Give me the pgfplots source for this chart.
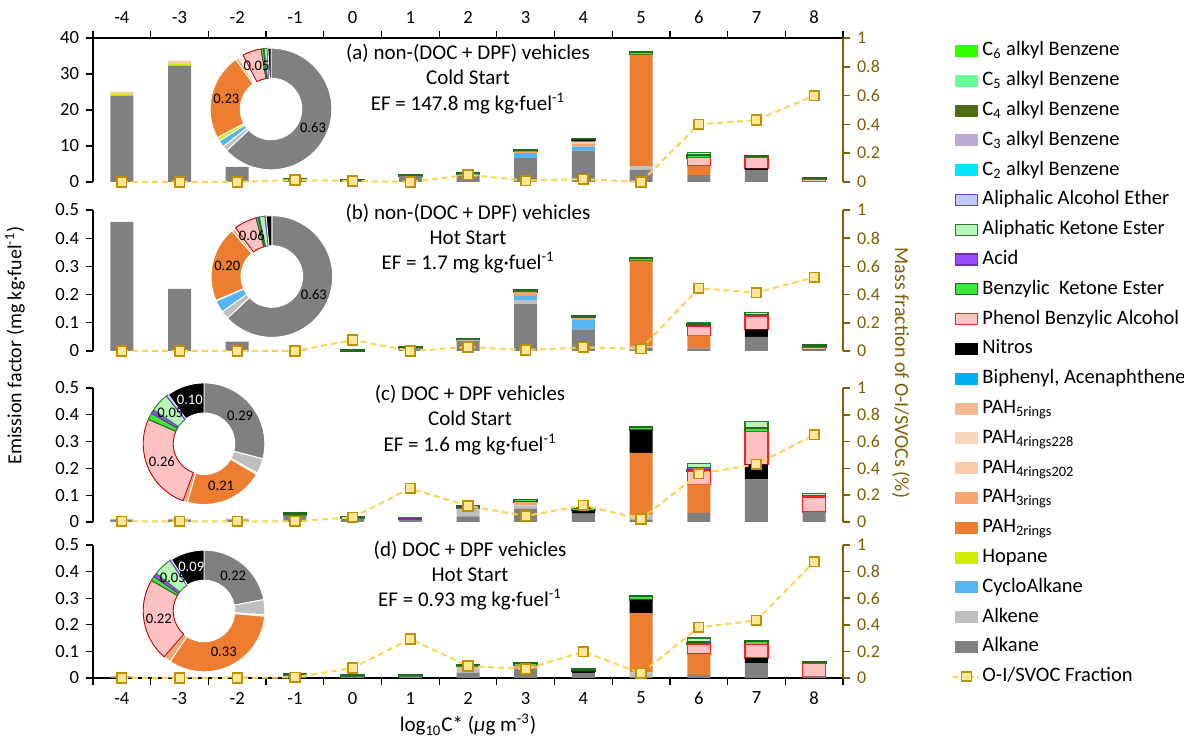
\documentclass[border=0pt]{standalone}
\usepackage{fontspec}
\setmainfont{Carlito}
\usepackage{pgfplots}
\usepackage{pgfplotstable}
\pgfplotsset{compat=1.18}

% ---- colours -------------------------------------------------------------
\definecolor{cAlk}{HTML}{808080}
\definecolor{cAlke}{HTML}{BFBFBF}
\definecolor{cCyc}{HTML}{56B4F2}
\definecolor{cHop}{HTML}{D2EC00}
\definecolor{cPtwo}{HTML}{ED7D31}
\definecolor{cPthree}{HTML}{F4A66E}
\definecolor{cPfoura}{HTML}{F8CBAD}
\definecolor{cPfourb}{HTML}{F9D5BC}
\definecolor{cPfive}{HTML}{F4B98E}
\definecolor{cBip}{HTML}{00B0F0}
\definecolor{cNit}{HTML}{000000}
\definecolor{cPhe}{HTML}{FFC2C2}
\definecolor{cPheB}{HTML}{FF2020}
\definecolor{cPheD}{HTML}{C00000}
\definecolor{cBke}{HTML}{3CE83C}
\definecolor{cBkeB}{HTML}{1E6B1E}
\definecolor{cAcid}{HTML}{9A4DFF}
\definecolor{cAcidB}{HTML}{7030A0}
\definecolor{cAke}{HTML}{B5F5B5}
\definecolor{cAkeB}{HTML}{2E7D32}
\definecolor{cAae}{HTML}{C3CAFF}
\definecolor{cAaeB}{HTML}{6A3BE0}
\definecolor{cCtwo}{HTML}{00E6FF}
\definecolor{cCthree}{HTML}{BCAAD6}
\definecolor{cCfour}{HTML}{4F6B14}
\definecolor{cCfive}{HTML}{66FF99}
\definecolor{cCsix}{HTML}{33FF00}
\definecolor{cLine}{HTML}{FFD34F}
\definecolor{cMk}{HTML}{FFE699}
\definecolor{cMkB}{HTML}{BF9000}
\definecolor{cRax}{HTML}{7F6000}

% ---- emission factors by volatility bin (mg kg-fuel^-1) -------------------
\pgfplotstableread{
x  alk   alke  cyc  hop  ptwo pthree pfour nit  phe  bke  acid ake  aae
-4 24.0  0     0    0.4  0    0      0.7   0    0    0    0    0    0
-3 32.3  0     0    0.5  0    0      0.9   0    0    0    0    0    0
-2 4.1   0     0    0    0    0      0.2   0    0    0    0    0    0
-1 0.6   0     0    0    0    0      0     0    0    0.3  0    0    0
0  0.3   0     0    0    0    0      0     0    0    0.3  0    0    0
1  1.7   0     0    0    0    0      0     0    0    0.3  0    0.1  0
2  1.8   0     0.3  0    0    0      0     0    0    0.3  0    0    0.2
3  6.6   0     1.4  0    0    0.5    0     0    0    0.4  0    0    0
4  8.7   0     1.1  0    0    0.7    0.7   0.5  0    0.4  0    0    0
5  3.3   1.1   0    0    31.0 0      0     0    0    0.7  0    0    0
6  1.9   0     0    0    2.6  0      0     0    2.2  0.8  0    0.7  0
7  3.3   0     0    0    0    0      0     0.5  2.9  0.6  0    0    0
8  0.2   0     0    0    0    0      0     0    0.6  0.4  0    0    0
}\tA
\pgfplotstableread{
x  alk   alke  cyc   hop  ptwo  pthree pfour nit   phe   bke   acid ake   aae
-4 0.458 0     0     0    0     0      0     0     0     0     0    0     0
-3 0.220 0     0     0    0     0      0     0     0     0     0    0     0
-2 0.033 0     0     0    0     0      0     0     0     0     0    0     0
-1 0.001 0     0     0    0     0      0     0     0     0     0    0     0
0  0     0     0     0    0     0      0     0     0     0.003 0    0     0
1  0.010 0     0     0    0     0      0     0     0     0.005 0    0     0
2  0.035 0.004 0     0    0     0      0     0     0     0.005 0    0     0
3  0.166 0.015 0.014 0    0     0.015  0     0     0     0.006 0    0     0
4  0.077 0     0.035 0    0     0.006  0     0.002 0     0.005 0    0     0
5  0.010 0.008 0     0    0.302 0      0     0     0     0.009 0    0     0
6  0.009 0     0     0    0.046 0      0     0     0.033 0.008 0    0.005 0
7  0.050 0     0     0    0     0      0     0.027 0.047 0.004 0    0.008 0
8  0.005 0     0     0    0     0      0     0     0.008 0.007 0    0     0
}\tB
\pgfplotstableread{
x  alk   alke  cyc  hop  ptwo  pthree pfour nit   phe   bke   acid  ake   aae
-4 0.008 0.004 0    0    0     0      0     0     0     0     0     0     0
-3 0.008 0.004 0    0    0     0      0     0     0     0     0     0     0
-2 0.009 0.004 0    0    0     0      0     0     0     0     0     0     0
-1 0.025 0     0    0    0     0      0     0     0     0.008 0     0     0
0  0.013 0     0    0    0     0      0     0     0     0.006 0     0     0
1  0.008 0     0    0    0     0      0     0     0     0     0.006 0.004 0
2  0.021 0.029 0    0    0     0      0     0     0     0.007 0.005 0     0
3  0.050 0.012 0    0    0     0.012  0     0     0     0.010 0     0     0
4  0.031 0     0    0    0     0      0     0.012 0     0.008 0     0.003 0
5  0.008 0.017 0    0    0.233 0      0     0.085 0     0.012 0     0     0
6  0.034 0     0    0    0.106 0      0     0     0.050 0.006 0.006 0.016 0
7  0.159 0     0    0    0     0      0     0.056 0.123 0.012 0     0.026 0
8  0.037 0     0    0    0     0      0     0     0.056 0     0.004 0.009 0
}\tC
\pgfplotstableread{
x  alk   alke  cyc  hop  ptwo  pthree pfour nit   phe   bke   acid  ake   aae
-4 0.004 0     0    0    0     0.002  0     0     0     0     0     0     0
-3 0.004 0     0    0    0     0      0     0     0     0     0     0     0
-2 0.005 0     0    0    0     0      0     0     0     0     0     0     0
-1 0.010 0     0    0    0     0      0     0     0     0.005 0     0     0
0  0.005 0     0    0    0     0      0     0     0     0.006 0     0     0
1  0.006 0     0    0    0     0      0     0     0     0.006 0     0     0
2  0.020 0.015 0    0    0     0.008  0     0     0     0.007 0     0     0
3  0.034 0     0    0    0     0.013  0     0     0     0.010 0     0     0
4  0.019 0     0    0    0     0      0     0.006 0     0.008 0     0     0
5  0.003 0.018 0    0    0.223 0      0     0.050 0     0.015 0     0     0
6  0.011 0     0    0    0.079 0      0     0     0.038 0.005 0.004 0.013 0
7  0.056 0     0    0    0     0      0     0.019 0.051 0.013 0     0     0
8  0.006 0     0    0    0     0      0     0     0.049 0.006 0     0     0
}\tD

% ---- O-I/SVOC mass fraction by bin ---------------------------------------
\pgfplotstableread{
x  a     b     c     d
-4 0.000 0.000 0.005 0.000
-3 0.000 0.000 0.005 0.000
-2 0.000 0.000 0.005 0.000
-1 0.014 0.000 0.005 0.005
0  0.007 0.078 0.035 0.075
1  0.000 0.000 0.250 0.293
2  0.050 0.028 0.120 0.090
3  0.010 0.007 0.045 0.068
4  0.020 0.026 0.124 0.198
5  0.000 0.016 0.022 0.035
6  0.400 0.445 0.360 0.380
7  0.430 0.414 0.430 0.433
8  0.600 0.523 0.650 0.874
}\tF

\pgfplotsset{
  barax/.style={scale only axis, width=375pt, anchor=south west,
    xmin=-4.5, xmax=8.5, enlargelimits=false,
    ybar stacked, bar width=11.5pt, stacked ignores zero,
    axis y line*=left, tick align=outside, major tick length=3.5pt,
    axis line style={black, line width=0.6pt},
    tick style={black, line width=0.6pt},
    ticklabel style={font=\fontsize{9.3}{11}\selectfont},
    /pgf/number format/assume math mode=true,
    xtick={-4.5,-3.5,-2.5,-1.5,-0.5,0.5,1.5,2.5,3.5,4.5,5.5,6.5,7.5,8.5},
    xticklabels={-4,-3,-2,-1,0,1,2,3,4,5,6,7,8},
    x tick label as interval,
    ymin=0, clip=false},
  linax/.style={scale only axis, width=375pt, anchor=south west,
    xmin=-4.5, xmax=8.5, ymin=0, ymax=1, enlargelimits=false,
    axis x line=none, axis y line*=right,
    ytick={0,0.2,0.4,0.6,0.8,1},
    tick align=outside, major tick length=3.5pt,
    y axis line style={cRax, line width=0.8pt},
    ytick style={cRax, line width=0.8pt},
    yticklabel style={text=cRax, font=\fontsize{9}{11}\selectfont},
    /pgf/number format/assume math mode=true, clip=false},
  fracline/.style={cLine, dashed, line width=1pt, dash pattern=on 3pt off 2pt,
    mark=square*, mark size=2.4pt,
    mark options={solid, fill=cMk, draw=cMkB, line width=0.8pt}},
  sw/.style={legend image code/.code={\draw[##1] (0pt,-2.75pt) rectangle (11pt,2.75pt);}},
}

\newcommand\bars[1]{%
  \addplot[fill=cAlk, draw=none] table[x=x,y=alk]{#1};
  \addplot[fill=cAlke, draw=none] table[x=x,y=alke]{#1};
  \addplot[fill=cCyc, draw=none] table[x=x,y=cyc]{#1};
  \addplot[fill=cHop, draw=none] table[x=x,y=hop]{#1};
  \addplot[fill=cPtwo, draw=none] table[x=x,y=ptwo]{#1};
  \addplot[fill=cPthree, draw=none] table[x=x,y=pthree]{#1};
  \addplot[fill=cPfoura, draw=none] table[x=x,y=pfour]{#1};
  \addplot[fill=cNit, draw=none] table[x=x,y=nit]{#1};
  \addplot[fill=cPhe, draw=cPheB, line width=0.6pt] table[x=x,y=phe]{#1};
  \addplot[fill=cBke, draw=cBkeB, line width=0.9pt] table[x=x,y=bke]{#1};
  \addplot[fill=cAcid, draw=cAcidB, line width=0.6pt] table[x=x,y=acid]{#1};
  \addplot[fill=cAke, draw=cAkeB, line width=0.6pt] table[x=x,y=ake]{#1};
  \addplot[fill=cAae, draw=cAaeB, line width=0.6pt] table[x=x,y=aae]{#1};
}

% donut of composition fractions: #1 centre, #2 list frac/fill/draw/label/labelcolour
\def\nolab{-}
\newcommand\donut[2]{%
  \gdef\dcum{0}%
  \foreach \f/\fc/\dc/\lab/\lc in {#2}{%
    \pgfmathsetmacro\sa{90-360*\dcum}%
    \pgfmathsetmacro\ea{90-360*(\dcum+\f)}%
    \filldraw[fill=\fc, draw=\dc, line width=0.45pt, line join=round, shift={(#1)}]
      (\sa:30.4pt) arc[start angle=\sa, end angle=\ea, radius=30.4pt]
      -- (\ea:15.4pt) arc[start angle=\ea, end angle=\sa, radius=15.4pt] -- cycle;
    \pgfmathsetmacro\tmp{\dcum+\f}%
    \xdef\dcum{\tmp}%
  }%
  \gdef\dcum{0}%
  \foreach \f/\fc/\dc/\lab/\lc in {#2}{%
    \pgfmathsetmacro\ma{90-360*(\dcum+\f/2)}%
    \ifx\lab\nolab\else
      \path (#1) ++(\ma:22.9pt) node[text=\lc, inner sep=0pt, font=\fontsize{7.3}{8}\selectfont] {\lab};
    \fi
    \pgfmathsetmacro\tmp{\dcum+\f}%
    \xdef\dcum{\tmp}%
  }%
}

\begin{document}
\begin{tikzpicture}
\useasboundingbox (0,0) rectangle (592pt,371.5pt);

% ---------------- (a) ----------------
\begin{axis}[barax, at={(46.5pt,280.5pt)}, height=72pt, ymax=40,
  ytick={0,10,20,30,40}, axis x line*=top]
  \bars{\tA}
  \coordinate (da) at (axis cs:-1.415,20.28);
\end{axis}
\donut{da}{0.63/cAlk/white/0.63/black, 0.014/cAlke/white/-/black,
  0.018/cCyc/white/-/black, 0.01/cHop/white/-/black, 0.23/cPtwo/white/0.23/black,
  0.008/cPthree/white/-/black, 0.006/cPfoura/white/-/black, 0.004/cPfourb/white/-/black,
  0.004/cPfive/white/-/black, 0.05/cPhe/cPheD/0.05/black, 0.006/cBke/cBkeB/-/black,
  0.002/cAcid/cAcidB/-/black, 0.008/cAke/cAkeB/-/black, 0.002/cAae/cAaeB/-/black,
  0.008/cNit/white/-/black}
\begin{axis}[linax, at={(46.5pt,280.5pt)}, height=72pt]
  \addplot[fracline] table[x=x,y=a]{\tF};
\end{axis}

% ---------------- (b) ----------------
\begin{axis}[barax, at={(46.5pt,196pt)}, height=70.5pt, ymax=0.5,
  ytick={0,0.1,0.2,0.3,0.4,0.5}, axis x line=none]
  \bars{\tB}
  \coordinate (db) at (axis cs:-1.4,0.264);
\end{axis}
\donut{db}{0.63/cAlk/white/0.63/black, 0.022/cAlke/white/-/black,
  0.032/cCyc/white/-/black, 0.002/cHop/white/-/black, 0.20/cPtwo/white/0.20/black,
  0.008/cPthree/white/-/black, 0.004/cPfoura/white/-/black, 0.06/cPhe/cPheD/0.06/black,
  0.006/cBke/cBkeB/-/black, 0.003/cAcid/cAcidB/-/black, 0.015/cAke/cAkeB/-/black,
  0.003/cAae/cAaeB/-/black, 0.015/cNit/white/-/black}
\begin{axis}[linax, at={(46.5pt,196pt)}, height=70.5pt]
  \addplot[fracline] table[x=x,y=b]{\tF};
\end{axis}

% ---------------- (c) ----------------
\begin{axis}[barax, at={(46.5pt,110.5pt)}, height=67pt, ymax=0.5,
  ytick={0,0.1,0.2,0.3,0.4,0.5}, axis x line=none]
  \bars{\tC}
  \coordinate (dc) at (axis cs:-2.576,0.292);
\end{axis}
\donut{dc}{0.29/cAlk/white/0.29/black, 0.04/cAlke/white/-/black,
  0.004/cCtwo/white/-/black, 0.21/cPtwo/white/0.21/black, 0.012/cPthree/white/-/black,
  0.26/cPhe/cPheD/0.26/black, 0.018/cBke/cBkeB/-/black, 0.01/cAcid/cAcidB/-/black,
  0.05/cAke/cAkeB/0.05/black, 0.006/cAae/cAaeB/-/black, 0.10/cNit/white/0.10/white}
\begin{axis}[linax, at={(46.5pt,110.5pt)}, height=67pt]
  \addplot[fracline] table[x=x,y=c]{\tF};
\end{axis}

% ---------------- (d) ----------------
\begin{axis}[barax, at={(46.5pt,32.5pt)}, height=66.5pt, ymax=0.5,
  ytick={0,0.1,0.2,0.3,0.4,0.5}, axis x line*=bottom]
  \bars{\tD}
  \coordinate (dd) at (axis cs:-2.576,0.252);
\end{axis}
\donut{dd}{0.22/cAlk/white/0.22/black, 0.04/cAlke/white/-/black,
  0.004/cCtwo/white/-/black, 0.33/cPtwo/white/0.33/black, 0.02/cPthree/white/-/black,
  0.22/cPhe/cPheD/0.22/black, 0.012/cBke/cBkeB/-/black, 0.01/cAcid/cAcidB/-/black,
  0.05/cAke/cAkeB/0.05/black, 0.004/cAae/cAaeB/-/black, 0.09/cNit/white/0.09/white}
\begin{axis}[linax, at={(46.5pt,32.5pt)}, height=66.5pt]
  \addplot[fracline] table[x=x,y=d]{\tF};
\end{axis}

% ---------------- panel captions ----------------
\begin{scope}[every node/.style={align=center, font=\fontsize{10.5}{12.6}\selectfont}]
\node at (234pt,332pt) {(a) non-(DOC + DPF) vehicles\\Cold Start\\EF = 147.8 mg kg·fuel\textsuperscript{-1}};
\node at (234pt,252.3pt) {(b) non-(DOC + DPF) vehicles\\Hot Start\\EF = 1.7 mg kg·fuel\textsuperscript{-1}};
\node at (235pt,161.5pt) {(c) DOC + DPF vehicles\\Cold Start\\EF = 1.6 mg kg·fuel\textsuperscript{-1}};
\node at (235pt,83.8pt) {(d) DOC + DPF vehicles\\Hot Start\\EF = 0.93 mg kg·fuel\textsuperscript{-1}};
\end{scope}

% ---------------- axis titles ----------------
\node[font=\fontsize{10.5}{12}\selectfont] at (234pt,9pt) {log\textsubscript{10}C* (\textit{μ}g m\textsuperscript{-3})};
\node[rotate=90, font=\fontsize{10}{12}\selectfont] at (7.5pt,198.7pt) {Emission factor (mg kg·fuel\textsuperscript{-1})};
\node[rotate=-90, text=cRax, font=\fontsize{10}{12}\selectfont] at (450.5pt,185pt) {Mass fraction of O-I/SVOCs (\%)};

% ---------------- legend ----------------
\begin{axis}[at={(473pt,353pt)}, anchor=north west, scale only axis, width=10pt, height=10pt,
  hide axis, xmin=0, xmax=1, ymin=0, ymax=1,
  legend cell align=left,
  legend style={at={(0,1)}, anchor=north west, draw=none, fill=none,
    font=\fontsize{10.25}{12}\selectfont, row sep=5.5pt, column sep=0pt,
    nodes={inner xsep=1pt, inner ysep=0pt, text height=7.2pt, text depth=2.2pt}}]
  \addlegendimage{sw, fill=cCsix, draw=cCsix}
  \addlegendentry{C\textsubscript{6} alkyl Benzene}
  \addlegendimage{sw, fill=cCfive, draw=cCfive}
  \addlegendentry{C\textsubscript{5} alkyl Benzene}
  \addlegendimage{sw, fill=cCfour, draw=cCfour}
  \addlegendentry{C\textsubscript{4} alkyl Benzene}
  \addlegendimage{sw, fill=cCthree, draw=cCthree}
  \addlegendentry{C\textsubscript{3} alkyl Benzene}
  \addlegendimage{sw, fill=cCtwo, draw=cCtwo}
  \addlegendentry{C\textsubscript{2} alkyl Benzene}
  \addlegendimage{sw, fill=cAae, draw=cAaeB, line width=0.6pt}
  \addlegendentry{Aliphalic Alcohol Ether}
  \addlegendimage{sw, fill=cAke, draw=cAkeB, line width=0.6pt}
  \addlegendentry{Aliphatic Ketone Ester}
  \addlegendimage{sw, fill=cAcid, draw=cAcidB, line width=0.6pt}
  \addlegendentry{Acid}
  \addlegendimage{sw, fill=cBke, draw=cBkeB, line width=0.6pt}
  \addlegendentry{Benzylic\ \ Ketone Ester}
  \addlegendimage{sw, fill=cPhe, draw=cPheB, line width=0.6pt}
  \addlegendentry{Phenol Benzylic Alcohol}
  \addlegendimage{sw, fill=cNit, draw=cNit}
  \addlegendentry{Nitros}
  \addlegendimage{sw, fill=cBip, draw=cBip}
  \addlegendentry{Biphenyl, Acenaphthene}
  \addlegendimage{sw, fill=cPfive, draw=cPfive}
  \addlegendentry{PAH\textsubscript{5rings}}
  \addlegendimage{sw, fill=cPfourb, draw=cPfourb}
  \addlegendentry{PAH\textsubscript{4rings228}}
  \addlegendimage{sw, fill=cPfoura, draw=cPfoura}
  \addlegendentry{PAH\textsubscript{4rings202}}
  \addlegendimage{sw, fill=cPthree, draw=cPthree}
  \addlegendentry{PAH\textsubscript{3rings}}
  \addlegendimage{sw, fill=cPtwo, draw=cPtwo}
  \addlegendentry{PAH\textsubscript{2rings}}
  \addlegendimage{sw, fill=cHop, draw=cHop}
  \addlegendentry{Hopane}
  \addlegendimage{sw, fill=cCyc, draw=cCyc}
  \addlegendentry{CycloAlkane}
  \addlegendimage{sw, fill=cAlke, draw=cAlke}
  \addlegendentry{Alkene}
  \addlegendimage{sw, fill=cAlk, draw=cAlk}
  \addlegendentry{Alkane}
  \addlegendimage{legend image code/.code={%
      \draw[cLine, line width=1pt, dash pattern=on 2.5pt off 1.5pt] (-1pt,0pt) -- (12pt,0pt);
      \draw[cMkB, fill=cMk, line width=0.8pt] (3pt,-2.3pt) rectangle (8pt,2.3pt);}}
  \addlegendentry{O-I/SVOC Fraction}
\end{axis}
\end{tikzpicture}
\end{document}
